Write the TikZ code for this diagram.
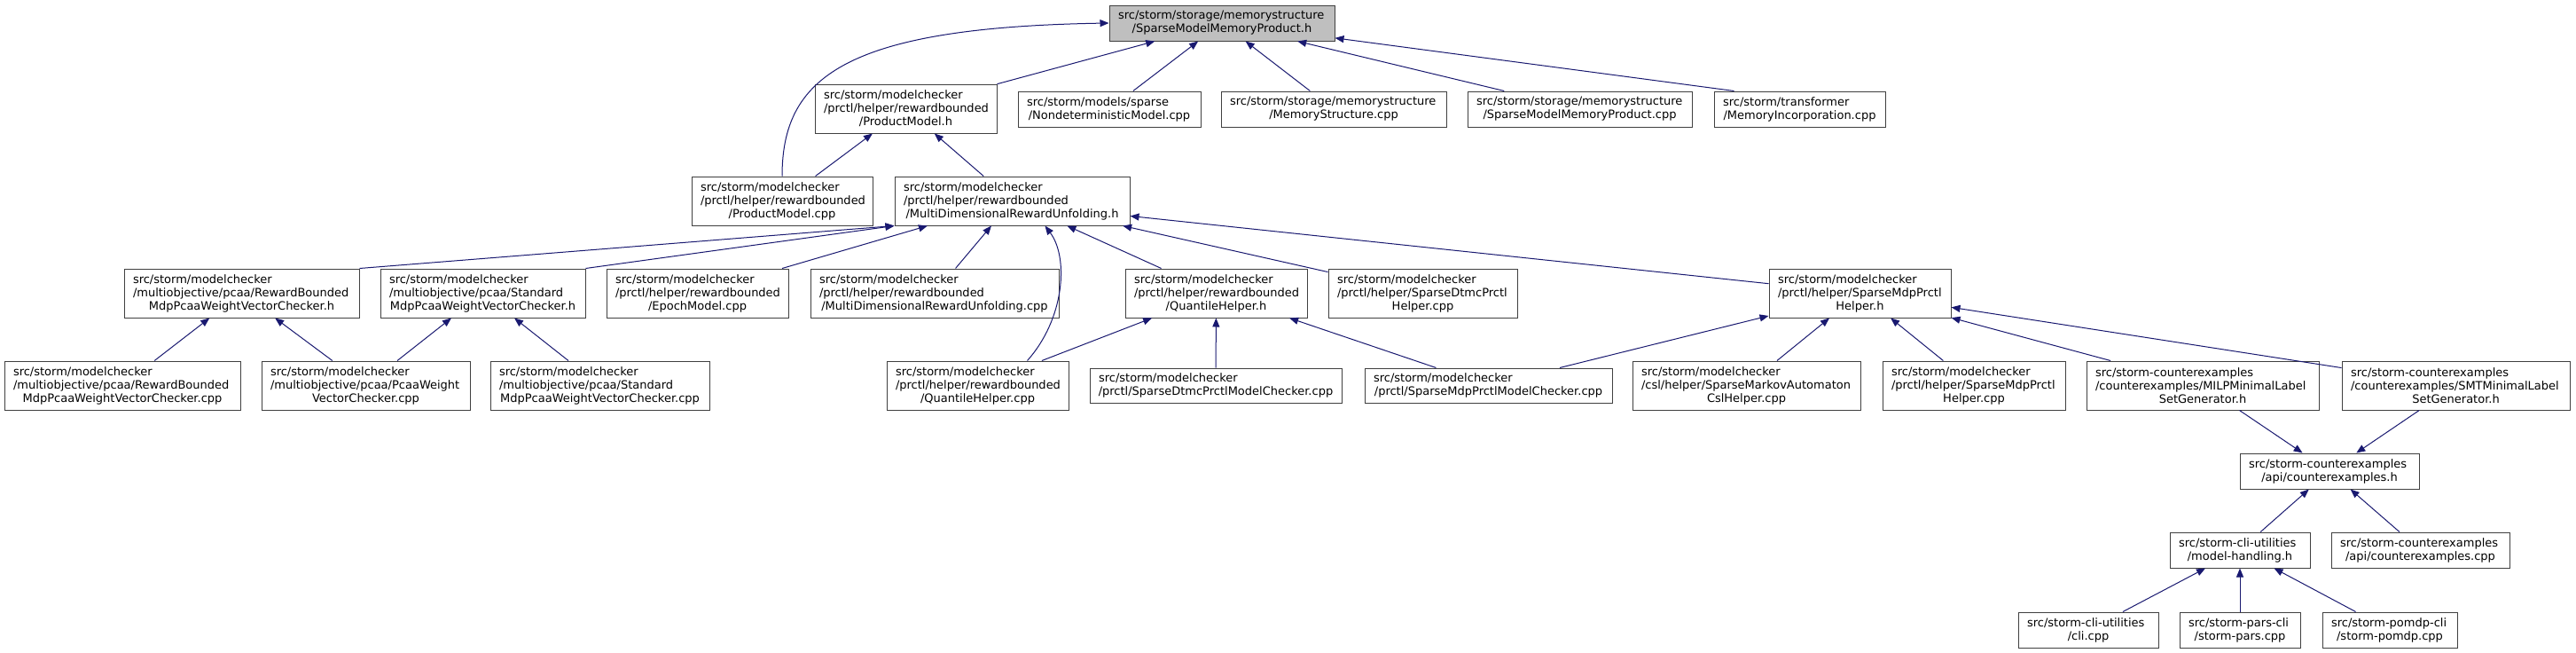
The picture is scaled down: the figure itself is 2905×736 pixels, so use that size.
\documentclass[tikz,border=0pt]{standalone}
\usepackage{fontspec}
\setmainfont{DejaVu Sans}
\usepackage{xcolor}
\usepackage{tikz}
\usetikzlibrary{arrows.meta, calc, shadows}

\definecolor{edgeblue}{HTML}{191970}
\definecolor{rootgray}{HTML}{BFBFBF}
\definecolor{boxline}{HTML}{404040}

\tikzset{
  file/.style={draw=boxline, fill=white, line width=1pt, inner sep=0pt,
    font=\fontsize{13}{15}\selectfont,
    drop shadow={shadow xshift=1pt, shadow yshift=-1pt, fill=boxline, opacity=1}},
  dep/.style={draw=edgeblue, line width=1pt, -{Triangle[length=10pt, width=8pt]}}
}

% one line of a label: left, or centred for the last one
\newcommand{\fleft}[1]{\makebox[\hsize][l]{#1}\\}
\newcommand{\fcenter}[1]{\makebox[\hsize][c]{#1}}
% box between x1..x2 and y1..y2 (pixels of the graph)
\newcommand{\fnode}[7][]{%
  \pgfmathsetmacro{\filew}{#4-#3}%
  \pgfmathsetmacro{\fileh}{#6-#5}%
  \node[file, #1, minimum width=\filew pt, minimum height=\fileh pt,
    text width=\filew pt-20pt] (#2) at ({(#3+#4)/2},{(#5+#6)/2}) {#7};}

\begin{document}
\begin{tikzpicture}[x=1pt, y=-1pt]
  \useasboundingbox (0,0) rectangle (2905,736);

  \fnode[fill=rootgray]{root}{1251}{1505}{6}{46}{\fleft{src/storm/storage/memorystructure}\fcenter{/SparseModelMemoryProduct.h}}

  \fnode{pmh}{919}{1124}{95}{150}{\fleft{src/storm/modelchecker}\fleft{/prctl/helper/rewardbounded}\fcenter{/ProductModel.h}}
  \fnode{nondet}{1148}{1354}{103}{143}{\fleft{src/storm/models/sparse}\fcenter{/NondeterministicModel.cpp}}
  \fnode{memstruct}{1377}{1631}{103}{143}{\fleft{src/storm/storage/memorystructure}\fcenter{/MemoryStructure.cpp}}
  \fnode{smmpcpp}{1655}{1908}{103}{143}{\fleft{src/storm/storage/memorystructure}\fcenter{/SparseModelMemoryProduct.cpp}}
  \fnode{memincorp}{1933}{2126}{103}{143}{\fleft{src/storm/transformer}\fcenter{/MemoryIncorporation.cpp}}

  \fnode{pmcpp}{780}{984}{199}{254}{\fleft{src/storm/modelchecker}\fleft{/prctl/helper/rewardbounded}\fcenter{/ProductModel.cpp}}
  \fnode{mdruh}{1009}{1274}{199}{254}{\fleft{src/storm/modelchecker}\fleft{/prctl/helper/rewardbounded}\fcenter{/MultiDimensionalRewardUnfolding.h}}

  \fnode{rbh}{140}{405}{303}{358}{\fleft{src/storm/modelchecker}\fleft{/multiobjective/pcaa/RewardBounded}\fcenter{MdpPcaaWeightVectorChecker.h}}
  \fnode{stdh}{429}{660}{303}{358}{\fleft{src/storm/modelchecker}\fleft{/multiobjective/pcaa/Standard}\fcenter{MdpPcaaWeightVectorChecker.h}}
  \fnode{epoch}{684}{889}{303}{358}{\fleft{src/storm/modelchecker}\fleft{/prctl/helper/rewardbounded}\fcenter{/EpochModel.cpp}}
  \fnode{mdrucpp}{914}{1194}{303}{358}{\fleft{src/storm/modelchecker}\fleft{/prctl/helper/rewardbounded}\fcenter{/MultiDimensionalRewardUnfolding.cpp}}
  \fnode{qhh}{1269}{1474}{303}{358}{\fleft{src/storm/modelchecker}\fleft{/prctl/helper/rewardbounded}\fcenter{/QuantileHelper.h}}
  \fnode{dtmchelper}{1498}{1711}{303}{358}{\fleft{src/storm/modelchecker}\fleft{/prctl/helper/SparseDtmcPrctl}\fcenter{Helper.cpp}}
  \fnode{mdphelperh}{1995}{2200}{303}{358}{\fleft{src/storm/modelchecker}\fleft{/prctl/helper/SparseMdpPrctl}\fcenter{Helper.h}}

  \fnode{rbcpp}{5}{271}{407}{462}{\fleft{src/storm/modelchecker}\fleft{/multiobjective/pcaa/RewardBounded}\fcenter{MdpPcaaWeightVectorChecker.cpp}}
  \fnode{pcaacpp}{295}{530}{407}{462}{\fleft{src/storm/modelchecker}\fleft{/multiobjective/pcaa/PcaaWeight}\fcenter{VectorChecker.cpp}}
  \fnode{stdcpp}{553}{800}{407}{462}{\fleft{src/storm/modelchecker}\fleft{/multiobjective/pcaa/Standard}\fcenter{MdpPcaaWeightVectorChecker.cpp}}
  \fnode{qhcpp}{1000}{1205}{407}{462}{\fleft{src/storm/modelchecker}\fleft{/prctl/helper/rewardbounded}\fcenter{/QuantileHelper.cpp}}
  \fnode{dtmcmc}{1229}{1513}{415}{454}{\fleft{src/storm/modelchecker}\fcenter{/prctl/SparseDtmcPrctlModelChecker.cpp}}
  \fnode{mdpmc}{1539}{1818}{415}{454}{\fleft{src/storm/modelchecker}\fcenter{/prctl/SparseMdpPrctlModelChecker.cpp}}
  \fnode{mahelper}{1841}{2098}{407}{462}{\fleft{src/storm/modelchecker}\fleft{/csl/helper/SparseMarkovAutomaton}\fcenter{CslHelper.cpp}}
  \fnode{mdphelpercpp}{2123}{2329}{407}{462}{\fleft{src/storm/modelchecker}\fleft{/prctl/helper/SparseMdpPrctl}\fcenter{Helper.cpp}}
  \fnode{milp}{2353}{2615}{407}{462}{\fleft{src/storm-counterexamples}\fleft{/counterexamples/MILPMinimalLabel}\fcenter{SetGenerator.h}}
  \fnode{smt}{2641}{2898}{407}{462}{\fleft{src/storm-counterexamples}\fleft{/counterexamples/SMTMinimalLabel}\fcenter{SetGenerator.h}}

  \fnode{cexh}{2526}{2728}{511}{551}{\fleft{src/storm-counterexamples}\fcenter{/api/counterexamples.h}}
  \fnode{mh}{2447}{2605}{600}{640}{\fleft{src/storm-cli-utilities}\fcenter{/model-handling.h}}
  \fnode{cexcpp}{2629}{2830}{600}{640}{\fleft{src/storm-counterexamples}\fcenter{/api/counterexamples.cpp}}
  \fnode{cli}{2276}{2434}{690}{730}{\fleft{src/storm-cli-utilities}\fcenter{/cli.cpp}}
  \fnode{pars}{2458}{2594}{690}{730}{\fleft{src/storm-pars-cli}\fcenter{/storm-pars.cpp}}
  \fnode{pomdp}{2619}{2771}{690}{730}{\fleft{src/storm-pomdp-cli}\fcenter{/storm-pomdp.cpp}}

  \draw[dep] (pmh) -- (root);
  \draw[dep] (nondet) -- (root);
  \draw[dep] (memstruct) -- (root);
  \draw[dep] (smmpcpp) -- (root);
  \draw[dep] ([xshift=23pt]memincorp.north west) -- (root);
  \draw[dep] (pmcpp.north) .. controls +(0,-110) and +(-300,5) .. (root.west);

  \draw[dep] (pmcpp) -- (pmh);
  \draw[dep] (mdruh) -- (pmh);

  \draw[dep] (rbh.north east) -- (mdruh.south west);
  \draw[dep] (stdh.north east) -- (mdruh.south west);
  \draw[dep] (epoch) -- (mdruh);
  \draw[dep] (mdrucpp) -- (mdruh);
  \draw[dep] ([xshift=-47pt]qhcpp.north east) .. controls +(42,-47) and +(27,36) .. ([xshift=37pt]mdruh.south);
  \draw[dep] (qhh) -- (mdruh);
  \draw[dep] (dtmchelper) -- (mdruh);
  \draw[dep] (mdphelperh) -- ([yshift=11pt]mdruh.south east);

  \draw[dep] (rbcpp) -- (rbh);
  \draw[dep] (pcaacpp) -- (rbh);
  \draw[dep] (pcaacpp) -- (stdh);
  \draw[dep] (stdcpp) -- (stdh);

  \draw[dep] (qhcpp) -- (qhh);
  \draw[dep] (dtmcmc) -- (qhh);
  \draw[dep] (mdpmc) -- (qhh);

  \draw[dep] (mdpmc) -- (mdphelperh);
  \draw[dep] (mahelper) -- (mdphelperh);
  \draw[dep] (mdphelpercpp) -- (mdphelperh);
  \draw[dep] (milp) -- (mdphelperh);
  \draw[dep] (smt) -- (mdphelperh);

  \draw[dep] (milp) -- (cexh);
  \draw[dep] (smt) -- (cexh);
  \draw[dep] (mh) -- (cexh);
  \draw[dep] (cexcpp) -- (cexh);
  \draw[dep] (cli) -- (mh);
  \draw[dep] (pars) -- (mh);
  \draw[dep] (pomdp) -- (mh);
\end{tikzpicture}
\end{document}
